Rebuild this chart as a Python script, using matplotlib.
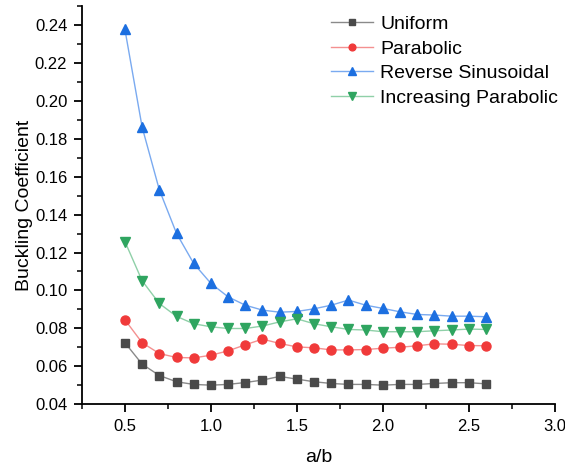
import matplotlib
matplotlib.use("Agg")
import matplotlib.pyplot as plt
from matplotlib.ticker import MultipleLocator

plt.rcParams["font.family"] = ["Liberation Sans", "DejaVu Sans"]

ratio = [0.5, 0.6, 0.7, 0.8, 0.9, 1.0, 1.1, 1.2, 1.3, 1.4, 1.5,
         1.6, 1.7, 1.8, 1.9, 2.0, 2.1, 2.2, 2.3, 2.4, 2.5, 2.6]

uniform = [0.0724, 0.0611, 0.0551, 0.0518, 0.0504, 0.0500, 0.0504, 0.0514,
           0.0527, 0.0546, 0.0532, 0.0518, 0.0509, 0.0504, 0.0504, 0.0500,
           0.0504, 0.0504, 0.0509, 0.0513, 0.0513, 0.0507]
parabolic = [0.0845, 0.0724, 0.0667, 0.0646, 0.0644, 0.0658, 0.0681, 0.0713,
             0.0743, 0.0720, 0.0702, 0.0697, 0.0686, 0.0686, 0.0688, 0.0695,
             0.0700, 0.0708, 0.0718, 0.0716, 0.0709, 0.0708]
rev_sin = [0.2377, 0.1862, 0.1531, 0.1301, 0.1142, 0.1037, 0.0966, 0.0922,
           0.0896, 0.0885, 0.0889, 0.0903, 0.0922, 0.0949, 0.0922, 0.0905,
           0.0887, 0.0873, 0.0870, 0.0864, 0.0864, 0.0861]
inc_parabolic = [0.1258, 0.1051, 0.0931, 0.0863, 0.0824, 0.0808, 0.0799, 0.0799,
                 0.0812, 0.0834, 0.0850, 0.0824, 0.0808, 0.0794, 0.0791, 0.0782,
                 0.0782, 0.0782, 0.0787, 0.0791, 0.0796, 0.0794]

# name, values, marker, marker size, marker colour, line colour
series = [
    ("Uniform", uniform, "s", 6.0, "#4a4a4a", "#8a8a8a"),
    ("Parabolic", parabolic, "o", 6.5, "#f03a3a", "#f49090"),
    ("Reverse Sinusoidal", rev_sin, "^", 7.5, "#1c6fe0", "#7aaaf0"),
    ("Increasing Parabolic", inc_parabolic, "v", 7.5, "#2fa560", "#8fd0a8"),
]

fig = plt.figure(figsize=(5.65, 4.71), dpi=100)
ax = fig.add_axes([0.145, 0.142, 0.837, 0.845])

for name, vals, mk, ms, col, lcol in series:
    ax.plot(ratio, vals, color=lcol, lw=1.0, zorder=2)
    ax.plot(ratio, vals, ls="none", marker=mk, ms=ms, color=col, zorder=3)
    ax.plot([], [], color=lcol, lw=1.0, marker=mk, ms=ms * 0.75,
            mfc=col, mec=col, label=name)

ax.set_xlim(0.25, 3.0)
ax.set_ylim(0.04, 0.25)
ax.xaxis.set_minor_locator(MultipleLocator(0.25))
ax.yaxis.set_minor_locator(MultipleLocator(0.01))
ax.set_xticks([0.5, 1.0, 1.5, 2.0, 2.5, 3.0])
ax.set_yticks([0.04, 0.06, 0.08, 0.10, 0.12, 0.14, 0.16, 0.18, 0.20, 0.22, 0.24])
ax.yaxis.set_major_formatter(plt.FuncFormatter(lambda v, p: f"{v:.2f}"))
ax.xaxis.set_major_formatter(plt.FuncFormatter(lambda v, p: f"{v:.1f}"))

for s in ("top", "right"):
    ax.spines[s].set_visible(False)
for s in ("left", "bottom"):
    ax.spines[s].set_linewidth(1.3)
ax.tick_params(which="major", direction="out", length=6, width=1.3,
               labelsize=12, pad=4.5)
ax.tick_params(which="minor", direction="out", length=3.5, width=1.1)

ax.set_xlabel("a/b", fontsize=14, labelpad=11)
ax.set_ylabel("Buckling Coefficient", fontsize=14, labelpad=1)

leg = ax.legend(loc="upper right", bbox_to_anchor=(1.032, 1.006), frameon=False,
                fontsize=14, handlelength=2.2, handletextpad=0.36,
                labelspacing=0.36, borderaxespad=0.2)

fig.savefig("out.png", dpi=100)
